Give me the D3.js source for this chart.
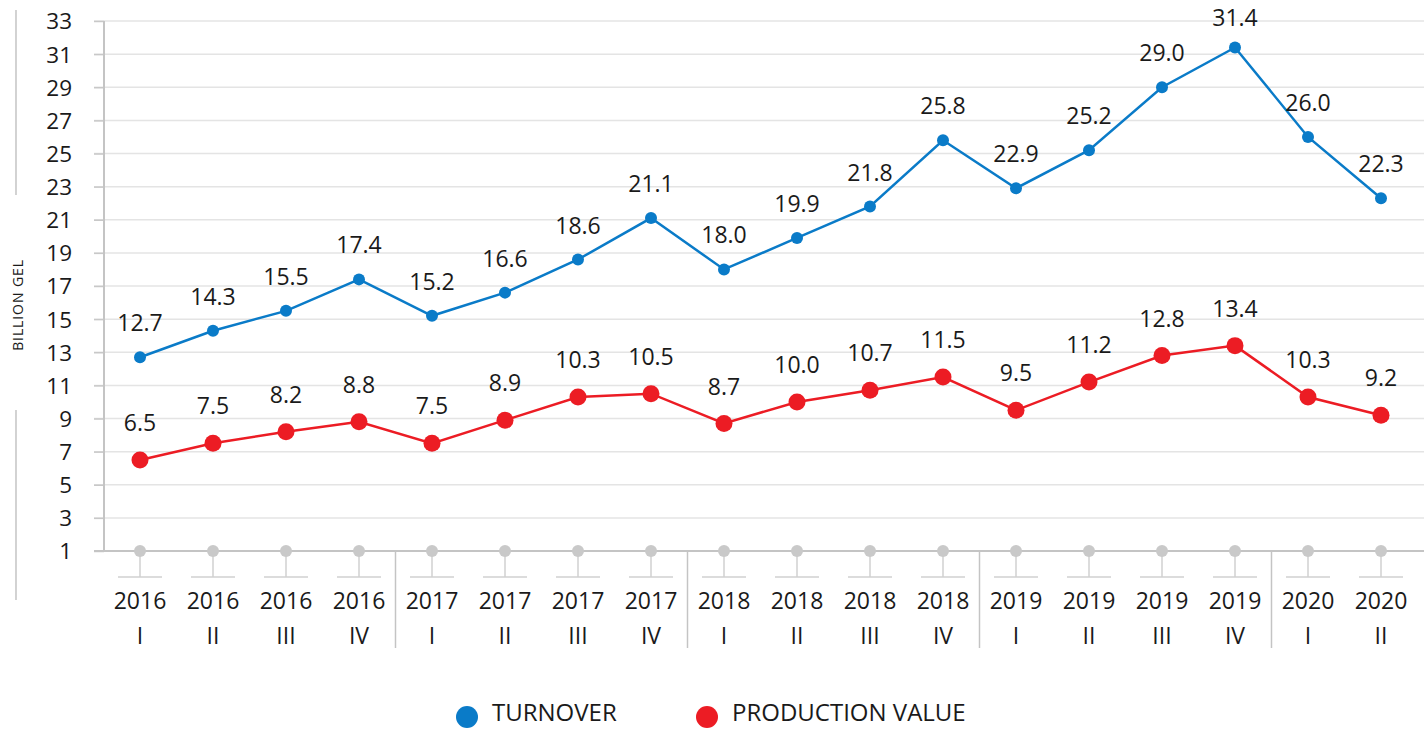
<!DOCTYPE html>
<html><head><meta charset="utf-8">
<script src="https://cdn.jsdelivr.net/npm/d3@7"></script>
<style>
html,body{margin:0;padding:0;background:#fff;}
svg text{font-family:"Open Sans","Noto Sans",sans-serif;fill:#1a1a1a;}
</style></head>
<body><svg id="c" width="1424" height="731"></svg>
<script>
const years = ["2016","2016","2016","2016","2017","2017","2017","2017","2018","2018","2018","2018","2019","2019","2019","2019","2020","2020"];
const quarters = ["I","II","III","IV","I","II","III","IV","I","II","III","IV","I","II","III","IV","I","II"];
const turnover = [12.7,14.3,15.5,17.4,15.2,16.6,18.6,21.1,18.0,19.9,21.8,25.8,22.9,25.2,29.0,31.4,26.0,22.3];
const production = [6.5,7.5,8.2,8.8,7.5,8.9,10.3,10.5,8.7,10.0,10.7,11.5,9.5,11.2,12.8,13.4,10.3,9.2];
const yTicks = [1,3,5,7,9,11,13,15,17,19,21,23,25,27,29,31,33];
const seriesNames = ["TURNOVER","PRODUCTION VALUE"];
const seriesColors = ["#0a7bc8","#ec1c24"];

const svg = d3.select("#c");
const W = 1424;
const idx = d3.range(years.length);
const x = d3.scalePoint().domain(idx).range([140,1381]);
const y = d3.scaleLinear().domain([1,33]).range([551,21]);

// left decorative lines and axis title
svg.append("line").attr("x1",16).attr("x2",16).attr("y1",10).attr("y2",195).attr("stroke","#b5b5b5").attr("stroke-width",1.2);
svg.append("line").attr("x1",16).attr("x2",16).attr("y1",410).attr("y2",600).attr("stroke","#b5b5b5").attr("stroke-width",1.2);
svg.append("text").attr("transform","translate(23,305) rotate(-90)").attr("text-anchor","middle")
  .style("font-size","14px").style("letter-spacing","0.9px").text("BILLION GEL");

// gridlines
const g = svg.append("g");
g.selectAll("line.grid").data(yTicks.filter(d=>d>1)).join("line")
  .attr("x1",94).attr("x2",W).attr("y1",d=>y(d)).attr("y2",d=>y(d))
  .attr("stroke","#e4e4e4").attr("stroke-width",1.5);
// y axis
const yAxis = d3.axisLeft(y).tickValues(yTicks).tickSize(10).tickPadding(22);
const ya = svg.append("g").attr("transform","translate(104,0)").call(yAxis);
ya.select(".domain").remove();
ya.selectAll(".tick line").attr("stroke","#c8c8c8").attr("stroke-width",1.5);
ya.selectAll(".tick text").style("font-size","22.5px").attr("fill","#1a1a1a").attr("dy","0.35em");
svg.append("line").attr("x1",104).attr("x2",104).attr("y1",y(33)).attr("y2",y(1)).attr("stroke","#c4c4c4").attr("stroke-width",2);
svg.append("line").attr("x1",94).attr("x2",W).attr("y1",y(1)).attr("y2",y(1)).attr("stroke","#c4c4c4").attr("stroke-width",2);

// x axis decorations
const xa = svg.append("g");
xa.selectAll("line.stem").data(idx).join("line")
  .attr("x1",d=>x(d)).attr("x2",d=>x(d)).attr("y1",y(1)).attr("y2",577).attr("stroke","#d0d0d0").attr("stroke-width",1.5);
xa.selectAll("line.foot").data(idx).join("line")
  .attr("x1",d=>x(d)-22).attr("x2",d=>x(d)+22).attr("y1",577).attr("y2",577).attr("stroke","#d0d0d0").attr("stroke-width",1.5);
xa.selectAll("circle").data(idx).join("circle")
  .attr("cx",d=>x(d)).attr("cy",y(1)).attr("r",6).attr("fill","#c9c9c9");
xa.selectAll("text.yr").data(idx).join("text")
  .attr("x",d=>x(d)).attr("y",609).attr("text-anchor","middle").style("font-size","23px").text(d=>years[d]);
xa.selectAll("text.q").data(idx).join("text")
  .attr("x",d=>x(d)).attr("y",644).attr("text-anchor","middle").style("font-size","23px").text(d=>quarters[d]);
const seps = idx.filter(i=>i>0 && years[i]!==years[i-1]);
xa.selectAll("line.sep").data(seps).join("line")
  .attr("x1",d=>(x(d)+x(d-1))/2).attr("x2",d=>(x(d)+x(d-1))/2).attr("y1",y(1)).attr("y2",648)
  .attr("stroke","#c4c4c4").attr("stroke-width",1.5);

// series
const series = [turnover, production];
const radii = [6,8.5];
const offs = [34,37];
series.forEach((vals,si)=>{
  const line = d3.line().x((d,i)=>x(i)).y(d=>y(d));
  svg.append("path").datum(vals).attr("d",line).attr("fill","none").attr("stroke",seriesColors[si]).attr("stroke-width",2.5);
  svg.append("g").selectAll("circle").data(vals).join("circle")
    .attr("cx",(d,i)=>x(i)).attr("cy",d=>y(d)).attr("r",radii[si]).attr("fill",seriesColors[si]);
  svg.append("g").selectAll("text").data(vals).join("text")
    .attr("x",(d,i)=>x(i)).attr("y",d=>Math.max(18, y(d)-offs[si])).attr("dy","0.35em").attr("text-anchor","middle")
    .style("font-size","23px").text(d=>d.toFixed(1));
});

// legend
const lg = svg.append("g");
const lx = [467,707];
seriesNames.forEach((n,i)=>{
  lg.append("circle").attr("cx",lx[i]).attr("cy",717).attr("r",11).attr("fill",seriesColors[i]);
  lg.append("text").attr("x",lx[i]+25).attr("y",713).attr("dy","0.35em").style("font-size","24px").text(n);
});
</script></body></html>
